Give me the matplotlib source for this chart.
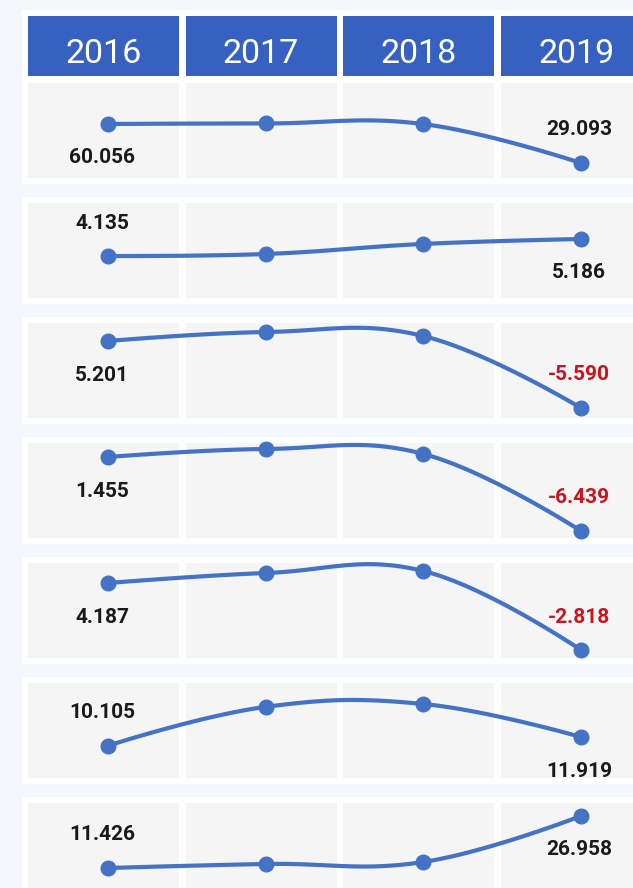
import matplotlib

matplotlib.use("Agg")
import matplotlib.pyplot as plt
import numpy as np

plt.rcParams["font.family"] = ["Roboto", "DejaVu Sans"]

years = ["2016", "2017", "2018", "2019"]

row1 = [60.056, 60.5, 60.0, 29.093]
row2 = [4.135, 4.26, 4.88, 5.186]
row3 = [5.201, 6.65, 6.0, -5.590]
row4 = [1.455, 2.31, 1.78, -6.439]
row5 = [4.187, 5.23, 5.44, -2.818]
row6 = [10.105, 18.2, 18.8, 11.919]
row7 = [11.426, 12.62, 13.22, 26.958]
rows = [row1, row2, row3, row4, row5, row6, row7]

# per-row value range shown in each panel (sparkline style, each row scaled alone)
ylims = [(12.42, 97.37), (1.17, 7.78), (-8.17, 9.07), (-7.83, 3.59),
         (-4.28, 6.905), (2.12, 24.43), (0.67, 32.63)]

BG = "#f3f6fd"
CELL = "#f5f5f5"
HEADER = "#3761c1"
LINE = "#4472c4"
DARK = "#1a1a1a"
RED = "#c9151e"

W, H = 633, 888
fig = plt.figure(figsize=(W / 100, H / 100), dpi=100)
fig.patch.set_facecolor(BG)

X_LEFT, X_RIGHT = 22, 660
XLIM = ((X_LEFT - 108) / 157.67, (X_RIGHT - 108) / 157.67)
CELL_OFF, CELL_W = -0.507, 0.958


def add_px_axes(top, bottom):
    ax = fig.add_axes([X_LEFT / W, 1 - bottom / H, (X_RIGHT - X_LEFT) / W, (bottom - top) / H])
    ax.set_xlim(*XLIM)
    ax.set_facecolor("white")
    ax.set_xticks([])
    ax.set_yticks([])
    for s in ax.spines.values():
        s.set_visible(False)
    return ax


def smooth(xs, ys, k=0.2, n=40):
    """Bezier smoothing through the points, control points from neighbours."""
    pts = np.column_stack([xs, ys]).astype(float)
    out = []
    for i in range(len(pts) - 1):
        p0, p1 = pts[i], pts[i + 1]
        c1 = p0 + k * (p1 - pts[i - 1]) if i > 0 else p0
        c2 = p1 - k * (pts[i + 2] - p0) if i + 2 < len(pts) else p1
        t = np.linspace(0, 1, n)[:, None]
        seg = ((1 - t) ** 3) * p0 + 3 * ((1 - t) ** 2) * t * c1 + 3 * (1 - t) * t ** 2 * c2 + t ** 3 * p1
        out.append(seg if i == 0 else seg[1:])
    out = np.vstack(out)
    return out[:, 0], out[:, 1]


x = np.arange(len(years))

# header
hax = add_px_axes(10, 82)
hax.set_ylim(0, 72)
hax.bar(x + CELL_OFF, 60, width=CELL_W, bottom=6, align="edge", color=HEADER)
for xi, yr in zip(x, years):
    hax.text(xi - 0.03, 28, yr, color="white", fontsize=24.5, fontweight="normal",
             ha="center", va="center")

# data rows
for k, (vals, (lo, hi)) in enumerate(zip(rows, ylims)):
    top = 77 + 120 * k
    ax = add_px_axes(top, top + 107)
    ax.set_ylim(lo, hi)
    for xi in x:
        ax.axvspan(xi + CELL_OFF, xi + CELL_OFF + CELL_W, ymin=6 / 107, ymax=101 / 107,
                   color=CELL, lw=0, zorder=0)
    sx, sy = smooth(x, vals)
    ax.plot(sx, sy, color=LINE, lw=3, solid_capstyle="round", zorder=2)
    ax.plot(x, vals, "o", color=LINE, ms=10.5, zorder=3)

    first, last = vals[0], vals[-1]
    for xi, v, other, dx in [(0, first, last, -6), (3, last, first, -2)]:
        dy = -34 if v > other else 33
        ax.annotate(f"{v:.3f}", (xi, v), xytext=(dx * 0.72, dy * 0.72), textcoords="offset points",
                    ha="center", va="center", fontsize=15, fontweight="bold",
                    color=RED if v < 0 else DARK, zorder=4)

fig.savefig("out.png", dpi=100, facecolor=BG)
